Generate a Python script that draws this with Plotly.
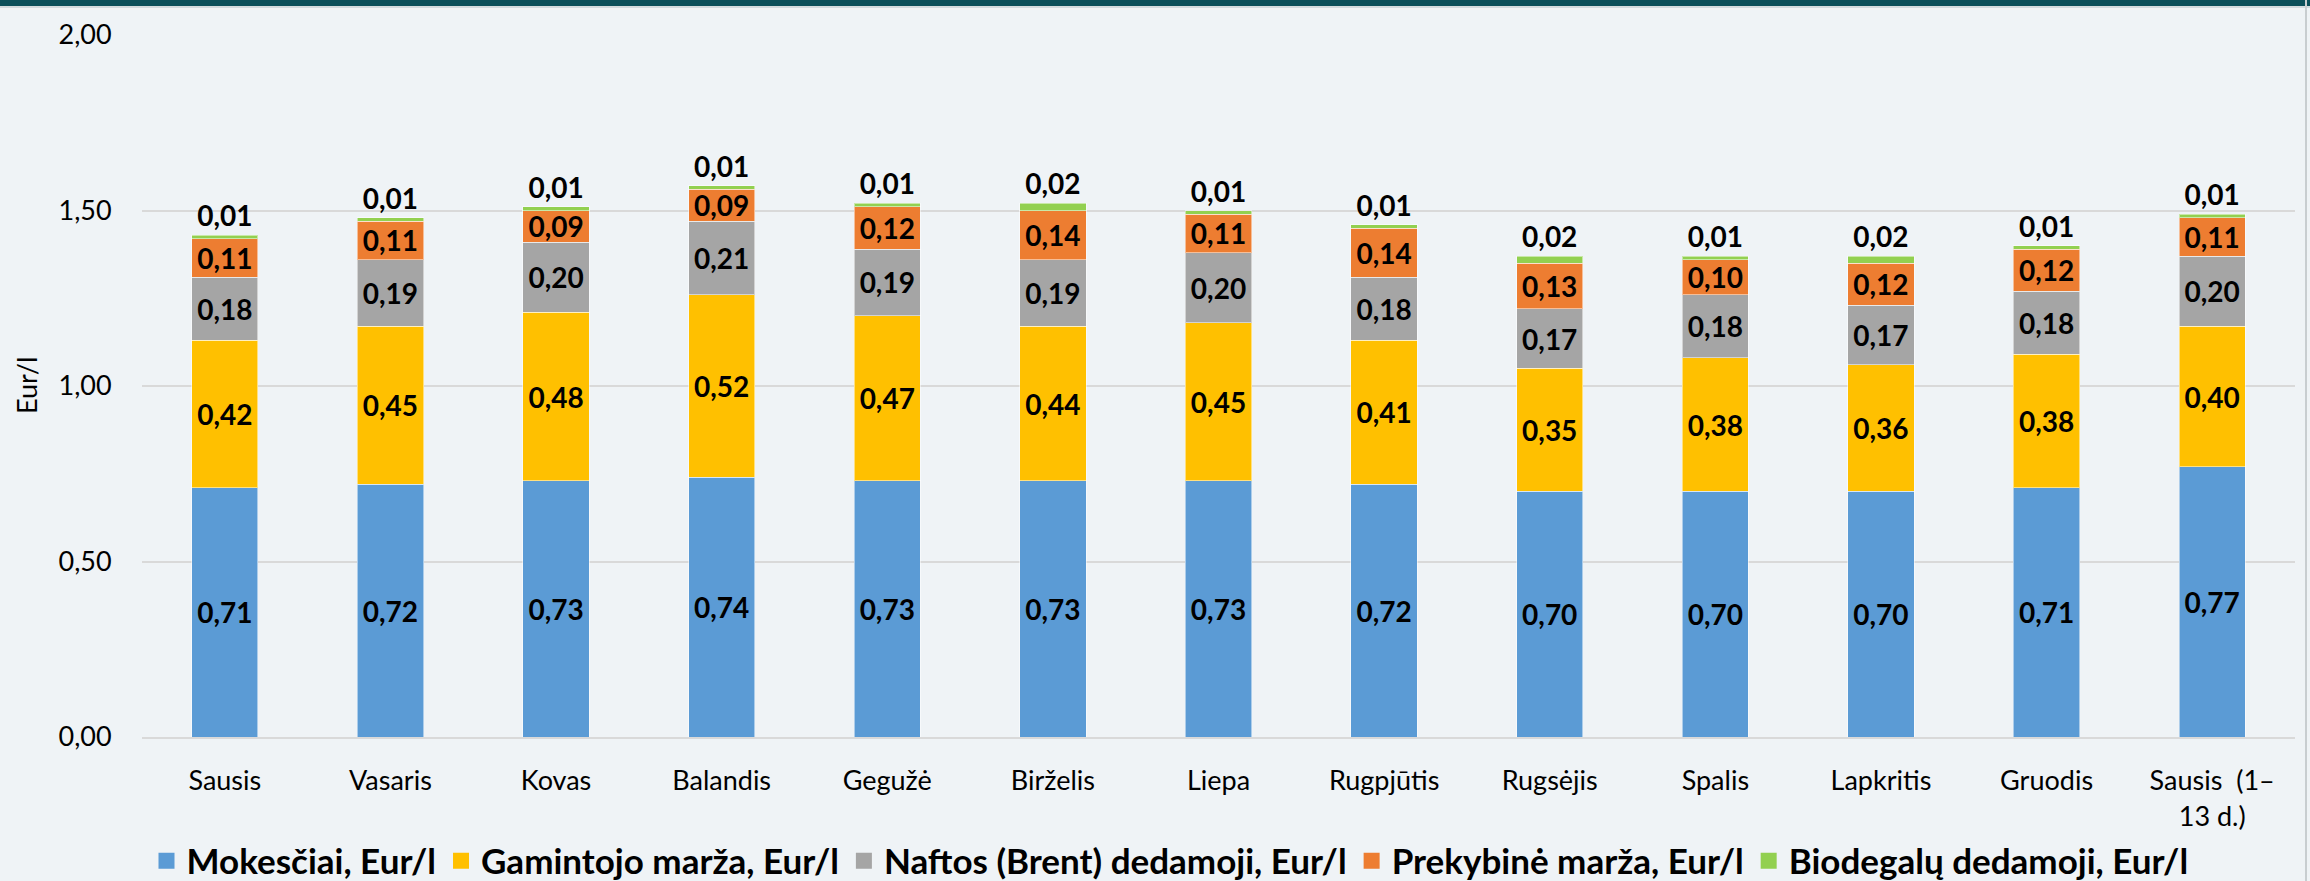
import plotly.graph_objects as go

categories = ["Sausis", "Vasaris", "Kovas", "Balandis", "Gegužė", "Birželis", "Liepa",
              "Rugpjūtis", "Rugsėjis", "Spalis", "Lapkritis", "Gruodis", "Sausis  (1–<br>13 d.)"]

mokesciai = [0.71, 0.72, 0.73, 0.74, 0.73, 0.73, 0.73, 0.72, 0.70, 0.70, 0.70, 0.71, 0.77]
gamintojo = [0.42, 0.45, 0.48, 0.52, 0.47, 0.44, 0.45, 0.41, 0.35, 0.38, 0.36, 0.38, 0.40]
naftos = [0.18, 0.19, 0.20, 0.21, 0.19, 0.19, 0.20, 0.18, 0.17, 0.18, 0.17, 0.18, 0.20]
prekybine = [0.11, 0.11, 0.09, 0.09, 0.12, 0.14, 0.11, 0.14, 0.13, 0.10, 0.12, 0.12, 0.11]
biodegalu = [0.01, 0.01, 0.01, 0.01, 0.01, 0.02, 0.01, 0.01, 0.02, 0.01, 0.02, 0.01, 0.01]

series_names = ["Mokesčiai, Eur/l", "Gamintojo marža, Eur/l", "Naftos (Brent) dedamoji, Eur/l",
                "Prekybinė marža, Eur/l", "Biodegalų dedamoji, Eur/l"]
series_values = [mokesciai, gamintojo, naftos, prekybine, biodegalu]
colors = ["#5b9bd5", "#ffc000", "#a5a5a5", "#ed7d31", "#92d050"]
y_title = "Eur/l"

FONT = "Lato, 'Open Sans', sans-serif"
BG = "#eff3f6"

fig = go.Figure()
for i, (name, vals, col) in enumerate(zip(series_names, series_values, colors)):
    top = i == len(series_names) - 1
    fig.add_trace(go.Bar(
        x=categories, y=vals, name=name, showlegend=False,
        marker=dict(color=col, line=dict(color="rgba(255,255,255,0.5)", width=1)),
        texttemplate="%{y:.2f}",
        textposition="outside" if top else "inside",
        insidetextanchor="middle",
        textangle=0,
        constraintext="none",
        cliponaxis=False,
        textfont=dict(family=FONT, size=28, color="black", weight="bold"),
        hoverinfo="skip",
    ))
# legend entries
for name, col in zip(series_names, colors):
    fig.add_trace(go.Scatter(
        x=[None], y=[None], mode="markers", name=name,
        marker=dict(symbol="square", size=22, color=col),
    ))

W, H = 2310, 881
plot_left, plot_right = 142, 2295
plot_top, plot_bottom = 35, 737
ph = plot_bottom - plot_top
pw = plot_right - plot_left

fig.update_layout(
    width=W, height=H,
    margin=dict(l=plot_left, r=W - plot_right, t=plot_top, b=H - plot_bottom, pad=0,
                autoexpand=False),
    paper_bgcolor=BG, plot_bgcolor=BG,
    barmode="stack", bargap=0.6,
    separators=", ",
    font=dict(family=FONT, size=27, color="black"),
    uniformtext=dict(minsize=28, mode="show"),
    legend=dict(
        orientation="h", xref="container", yref="container",
        x=1170 / W, xanchor="center", y=(H - 861) / H, yanchor="middle",
        font=dict(family=FONT, size=35, color="black", weight="bold"),
        bgcolor="rgba(0,0,0,0)", itemwidth=30, tracegroupgap=0, traceorder="normal",
    ),
    xaxis=dict(
        automargin=False, range=[-0.5, len(categories) - 0.5],
        showgrid=False, showline=True, linecolor="#d9d9d9", linewidth=2,
        ticks="", tickfont=dict(family=FONT, size=27, color="black"),
        ticklabelstandoff=19, fixedrange=True,
    ),
    yaxis=dict(
        automargin=False,
        range=[0, 2], dtick=0.5, tickformat=".2f",
        showgrid=True, gridcolor="#d9d9d9", gridwidth=2,
        zeroline=False, showline=False,
        ticks="outside", ticklen=24, tickcolor="rgba(0,0,0,0)",
        tickfont=dict(family=FONT, size=27, color="black"),
    ),
    annotations=[
        dict(text=y_title, xref="paper", yref="paper", x=(26 - plot_left) / pw, y=0.5,
             xanchor="center", yanchor="middle", textangle=-90, showarrow=False,
             font=dict(family=FONT, size=27, color="black")),
    ],
    shapes=[
        dict(type="rect", xref="paper", yref="paper", x0=-1, x1=2,
             y0=1 + (plot_top - 6) / ph, y1=1 + (plot_top + 5) / ph,
             fillcolor="#0b4f5a", line=dict(width=0), layer="above"),
        dict(type="line", xref="paper", yref="paper", x0=-1, x1=2,
             y0=1 + (plot_top - 7) / ph, y1=1 + (plot_top - 7) / ph,
             line=dict(color="#b8c2c6", width=1), layer="above"),
        dict(type="line", xref="paper", yref="paper",
             x0=(2306 - plot_left) / pw, x1=(2306 - plot_left) / pw, y0=-1, y1=2,
             line=dict(color="#c8cdd0", width=2), layer="above"),
    ],
)

fig.write_html("out.html", config={"displayModeBar": False},
               post_script="document.body.style.margin='0';document.body.style.background='%s';" % BG)
